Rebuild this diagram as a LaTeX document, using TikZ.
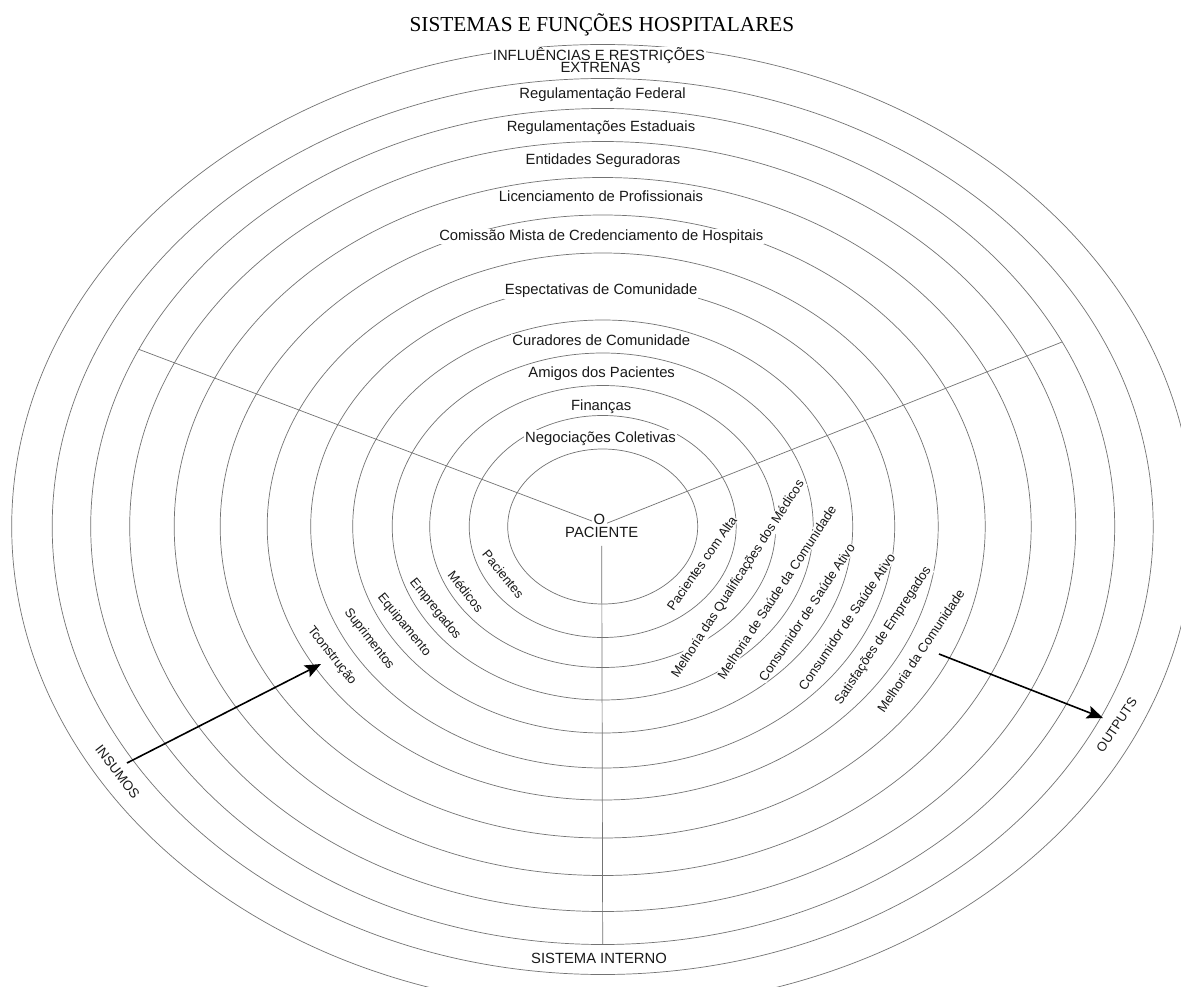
\documentclass[tikz,border=0pt]{standalone}
\usepackage{fontspec}
\setmainfont{Liberation Sans}
\newfontfamily\titlefont{Liberation Serif}
\usetikzlibrary{arrows.meta}

\begin{document}
\begin{tikzpicture}[x=1pt,y=-1pt,
  ring/.style={draw=black!55, line width=0.7pt},
  spoke/.style={draw=black!55, line width=0.7pt},
  flow/.style={draw=black, line width=1.6pt,
    -{Stealth[length=16pt,width=13pt,inset=3pt]}},
  lbl/.style={fill=white, inner sep=1pt, anchor=base, text=black!90,
    font=\fontsize{14.8}{17}\selectfont},
  side/.style={fill=white, inner sep=0.6pt, text=black!90,
    font=\fontsize{13}{15}\selectfont},
]
\useasboundingbox (0,0) rectangle (1181,987);
\clip (0,0) rectangle (1181,987);
\fill[white] (0,0) rectangle (1181,987);

% concentric rings
\coordinate (c) at (602.7,526.5);
\foreach \ra/\rb in {95/77.5, 133.5/111, 173/141, 210.5/173.5, 250/206.5,
    292/241.5, 335.5/273.5, 382.5/311.5, 428.5/349, 473/385, 512/418,
    550.5/448, 591/482}
  \draw[ring] (c) ellipse [x radius=\ra pt, y radius=\rb pt];

% the three sectors
\coordinate (hub) at (602.5,525);
\path (c) ++(205.07:512 and 418) coordinate (sl);
\path (c) ++(333.8:512 and 418) coordinate (sr);
\path (c) ++(90:512 and 418) coordinate (sb);
\draw[spoke] (hub) -- (sl);
\draw[spoke] (hub) -- (sr);

% title
\node[anchor=base, font=\titlefont\fontsize{21.3}{24}\selectfont] (title)
  at (602,32) {SISTEMAS E FUNÇÕES HOSPITALARES};

% ring labels, outer to inner
\node[lbl] (inf) at (599,60.5) {INFLUÊNCIAS E RESTRIÇÕES};
\node[lbl] (ext) at (600.5,73) {EXTRENAS};
\node[lbl] (fed) at (602.5,98.6) {Regulamentação Federal};
\node[lbl] (est) at (601,132) {Regulamentações Estaduais};
\node[lbl] (seg) at (603,164.6) {Entidades Seguradoras};
\node[lbl] (lic) at (601,201.3) {Licenciamento de Profissionais};
\node[lbl] (com) at (601.3,240.3) {Comissão Mista de Credenciamento de Hospitais};
\node[lbl] (esp) at (601.2,294.6) {Espectativas de Comunidade};
\node[lbl] (cur) at (601.3,345.3) {Curadores de Comunidade};
\node[lbl] (ami) at (601.7,377) {Amigos dos Pacientes};
\node[lbl] (fin) at (601.2,410.3) {Finanças};
\node[lbl] (neg) at (600.5,442) {Negociações Coletivas};

% centre
\node[lbl, inner xsep=1.5pt, inner ysep=2pt] (o) at (599.3,524.3) {O};
\node[lbl] (pac) at (601.7,537.6) {PACIENTE};
\draw[spoke] ([yshift=-7pt]pac.south) -- (sb);
\node[lbl] (sis) at (599,963.6) {SISTEMA INTERNO};

% inputs side
\node[side, rotate=-51] (in1) at (503.3,574.2) {Pacientes};
\node[side, rotate=-51.5] (in2) at (465.8,591.7) {Médicos};
\node[side, rotate=-51.3] (in3) at (435,609.2) {Empregados};
\node[side, rotate=-51] (in4) at (404,625) {Equipamento};
\node[side, rotate=-52.3] (in5) at (369,639) {Suprimentos};
\node[side, rotate=-51.8] (in6) at (331.7,655.8) {Tconstrução};
\node[side, rotate=-52.5, font=\fontsize{13.5}{15}\selectfont] (ins)
  at (117.5,771.7) {INSUMOS};

% outputs side
\node[side, rotate=55] (out1) at (701.7,563.3) {Pacientes com Alta};
\node[side, rotate=57] (out2) at (738.3,579.2) {Melhoria das Qualificações dos Médicos};
\node[side, rotate=56.6] (out3) at (776.7,592.5) {Melhoria de Saúde da Comunidade};
\node[side, rotate=56.3] (out4) at (806.7,612.5) {Consumidor de Saúde Ativo};
\node[side, rotate=56] (out5) at (846.7,621.7) {Consumidor de Saúde Ativo};
\node[side, rotate=56.3] (out6) at (883.3,635.8) {Satisfações de Empregados};
\node[side, rotate=56.1] (out7) at (920.8,650.8) {Melhoria da Comunidade};
\node[side, rotate=56.3] (outs) at (1116.7,725) {OUTPUTS};

% flow arrows
\coordinate (insA) at (127,763);
\coordinate (insB) at (321,664);
\coordinate (outA) at (939,654);
\coordinate (outB) at (1103,718);
\draw[flow] (insA) -- (insB);
\draw[flow] (outA) -- (outB);
\end{tikzpicture}
\end{document}
